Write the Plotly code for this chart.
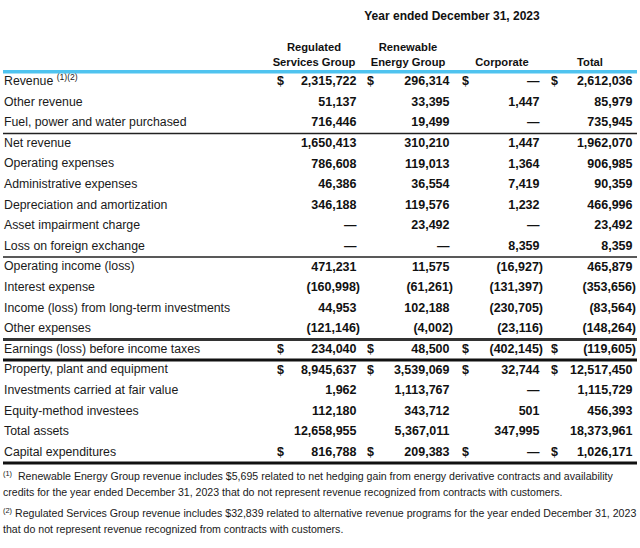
import plotly.graph_objects as go

# --- data -------------------------------------------------------------
labels = [
    "Revenue <sup>(1)(2)</sup>",
    "Other revenue",
    "Fuel, power and water purchased",
    "Net revenue",
    "Operating expenses",
    "Administrative expenses",
    "Depreciation and amortization",
    "Asset impairment charge",
    "Loss on foreign exchange",
    "Operating income (loss)",
    "Interest expense",
    "Income (loss) from long-term investments",
    "Other expenses",
    "Earnings (loss) before income taxes",
    "Property, plant and equipment",
    "Investments carried at fair value",
    "Equity-method investees",
    "Total assets",
    "Capital expenditures",
]

columns = ["Regulated|Services Group", "Renewable|Energy Group", "Corporate", "Total"]

regulated = [2315722, 51137, 716446, 1650413, 786608, 46386, 346188, None, None,
             471231, -160998, 44953, -121146, 234040,
             8945637, 1962, 112180, 12658955, 816788]
renewable = [296314, 33395, 19499, 310210, 119013, 36554, 119576, 23492, None,
             11575, -61261, 102188, -4002, 48500,
             3539069, 1113767, 343712, 5367011, 209383]
corporate = [None, 1447, None, 1447, 1364, 7419, 1232, None, 8359,
             -16927, -131397, -230705, -23116, -402145,
             32744, None, 501, 347995, None]
total = [2612036, 85979, 735945, 1962070, 906985, 90359, 466996, 23492, 8359,
         465879, -353656, -83564, -148264, -119605,
         12517450, 1115729, 456393, 18373961, 1026171]

dollar_rows = [0, 13, 14, 18]

title = "Year ended December 31, 2023"

footnotes = [
    "<sup>(1)</sup>  Renewable Energy Group revenue includes $5,695 related to net hedging gain from energy derivative contracts and availability",
    "credits for the year ended December 31, 2023 that do not represent revenue recognized from contracts with customers.",
    "<sup>(2)</sup> Regulated Services Group revenue includes $32,839 related to alternative revenue programs for the year ended December 31, 2023",
    "that do not represent revenue recognized from contracts with customers.",
]

# --- layout helpers ---------------------------------------------------
num_right = [360, 453, 543, 636]      # right edge of the figures (incl. paren room)
dollar_left = [277, 367, 462, 551]    # left edge of the $ signs
head_center = [314, 408, 502, 590]

LABEL_FONT = dict(family="Liberation Sans, Arial, sans-serif", size=12.3, color="#1a1a1a")
NUM_FONT = dict(family="Liberation Sans, Arial, sans-serif", size=12.5, color="#111111")
HEAD_FONT = dict(family="Liberation Sans, Arial, sans-serif", size=11.2, color="#111111")
NOTE_FONT = dict(family="Liberation Sans, Arial, sans-serif", size=10.6, color="#1a1a1a")


def fmt(v):
    if v is None:
        return "\u2014\u00a0"
    if v < 0:
        return f"({-v:,})"
    return f"{v:,}\u00a0"


rows = list(range(len(labels)))

fig = go.Figure()

# row labels
fig.add_trace(go.Scatter(
    x=[4] * len(labels), y=rows, text=labels,
    mode="text", textposition="middle right",
    textfont=LABEL_FONT, hoverinfo="skip"
))

# figures, one trace per column
for i, vals in enumerate([regulated, renewable, corporate, total]):
    fig.add_trace(go.Scatter(
        x=[num_right[i]] * len(vals), y=rows, text=[fmt(v) for v in vals],
        mode="text", textposition="middle left",
        textfont=dict(NUM_FONT, weight="bold"), hoverinfo="skip"
    ))
    fig.add_trace(go.Scatter(
        x=[dollar_left[i]] * len(dollar_rows), y=dollar_rows,
        text=["$"] * len(dollar_rows),
        mode="text", textposition="middle right",
        textfont=dict(NUM_FONT, weight="bold"), hoverinfo="skip"
    ))

# column headers
for i, name in enumerate(columns):
    parts = name.split("|")
    ys = [-1.62, -0.93] if len(parts) == 2 else [-0.93]
    fig.add_trace(go.Scatter(
        x=[head_center[i]] * len(parts), y=ys, text=parts,
        mode="text", textposition="middle center",
        textfont=dict(HEAD_FONT, weight="bold"), hoverinfo="skip"
    ))

fig.add_trace(go.Scatter(
    x=[452], y=[-3.15], text=[title],
    mode="text", textposition="middle center",
    textfont=dict(HEAD_FONT, size=12, weight="bold"), hoverinfo="skip"
))

# footnotes
fig.add_trace(go.Scatter(
    x=[3] * len(footnotes), y=[19.2, 19.97, 21.0, 21.78], text=footnotes,
    mode="text", textposition="middle right",
    textfont=NOTE_FONT, hoverinfo="skip"
))

# rules
rules = [
    (-0.5, 3.5, "#4fc3ef"),
    (2.5, 1.5, "#222222"),
    (8.5, 1.5, "#222222"),
    (12.5, 3, "#333333"),
    (13.5, 3, "#111111"),
    (18.5, 3, "#111111"),
]
for y, w, c in rules:
    fig.add_shape(type="line", xref="x", yref="y", x0=3, x1=637, y0=y, y1=y,
                  line=dict(color=c, width=w))

fig.update_layout(
    width=640, height=548,
    margin=dict(l=0, r=0, t=0, b=0),
    paper_bgcolor="white", plot_bgcolor="white",
    showlegend=False,
    xaxis=dict(range=[0, 640], visible=False, fixedrange=True),
    yaxis=dict(range=[22.62, -3.98], visible=False, fixedrange=True),
)

fig.write_html("out.html", config={"displayModeBar": False},
               post_script="document.body.style.margin='0px';")
